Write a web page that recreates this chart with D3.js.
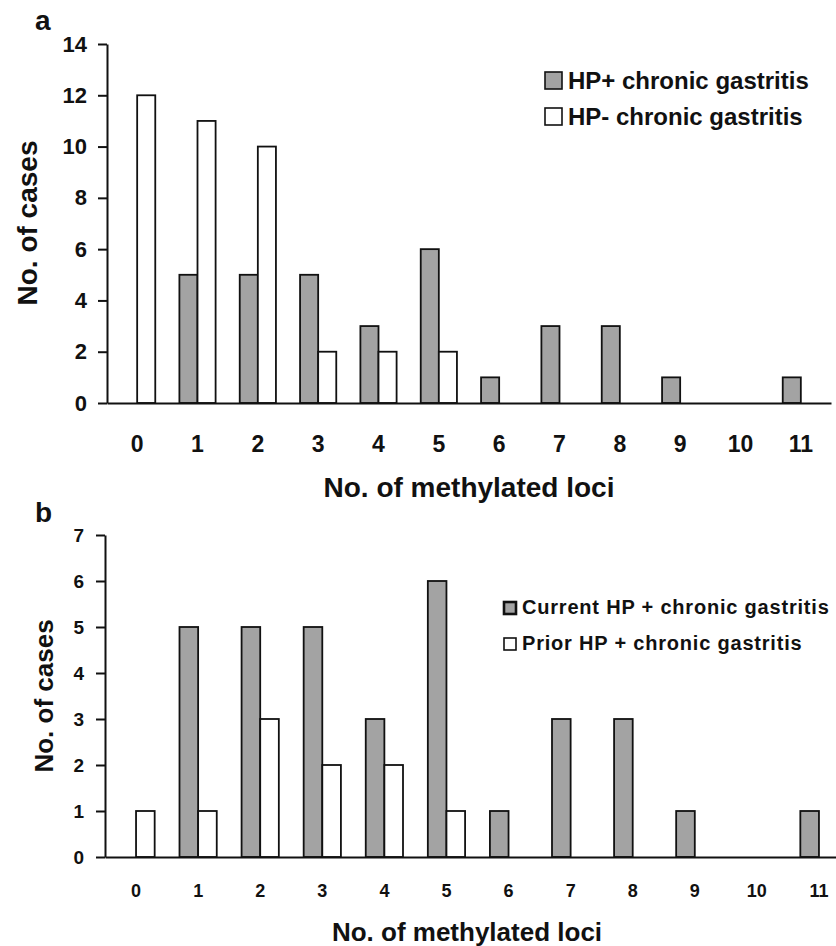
<!DOCTYPE html>
<html>
<head>
<meta charset="utf-8">
<script src="https://cdn.jsdelivr.net/npm/d3@7"></script>
<style>
  body { margin: 0; background: #fff; }
  svg text { font-family: "Liberation Sans", Arial, sans-serif; font-weight: bold; fill: #111; }
</style>
</head>
<body>
<div id="chart"></div>
<script>
// ---- data ----
const loci = ['0','1','2','3','4','5','6','7','8','9','10','11'];
// panel a
const hpPos = [0, 5, 5, 5, 3, 6, 1, 3, 3, 1, 0, 1];
const hpNeg = [12, 11, 10, 2, 2, 2, 0, 0, 0, 0, 0, 0];
const yTicksA = [0, 2, 4, 6, 8, 10, 12, 14];
// panel b
const currentHp = [0, 5, 5, 5, 3, 6, 1, 3, 3, 1, 0, 1];
const priorHp = [1, 1, 3, 2, 2, 1, 0, 0, 0, 0, 0, 0];
const yTicksB = [0, 1, 2, 3, 4, 5, 6, 7];

const GRAY = '#a3a3a3';
const W = 836, H = 946;

const svg = d3.select('#chart').append('svg')
    .attr('width', W)
    .attr('height', H);

function drawPanel(cfg) {
    const g = svg.append('g');
    const x = d3.scaleBand().domain(loci).range(cfg.xRange).paddingInner(0).paddingOuter(0);
    const y = d3.scaleLinear().domain([0, cfg.yMax]).range([cfg.y0, cfg.yTop]);
    const bw = x.bandwidth() * 0.3;

    // bars: gray left of centre, white right of centre
    const series = [
        { vals: cfg.s1, fill: GRAY, off: -bw },
        { vals: cfg.s2, fill: '#fff', off: 0 }
    ];
    series.forEach(s => {
        g.append('g').selectAll('rect')
            .data(loci.map((c, i) => ({ c, v: s.vals[i] })).filter(d => d.v > 0))
            .enter().append('rect')
            .attr('x', d => x(d.c) + x.bandwidth() / 2 + s.off)
            .attr('y', d => y(d.v))
            .attr('width', bw)
            .attr('height', d => y(0) - y(d.v))
            .attr('fill', s.fill)
            .attr('stroke', '#111')
            .attr('stroke-width', 1.8);
    });

    // y axis
    const ya = g.append('g')
        .attr('transform', `translate(${cfg.xRange[0]},0)`)
        .call(d3.axisLeft(y).tickValues(cfg.yTicks).tickFormat(d3.format('d'))
            .tickSize(9).tickSizeOuter(0).tickPadding(cfg.yPad));
    ya.selectAll('text').style('font-size', cfg.yFont + 'px');
    ya.selectAll('line, path').attr('stroke', '#111').attr('stroke-width', 2);

    // x axis
    const xa = g.append('g')
        .attr('transform', `translate(0,${cfg.y0})`)
        .call(d3.axisBottom(x).tickSize(0).tickSizeOuter(0).tickPadding(cfg.xPad));
    xa.selectAll('text').style('font-size', cfg.xFont + 'px');
    xa.select('.domain').attr('stroke', '#111').attr('stroke-width', 2);

    // titles
    g.append('text')
        .attr('x', cfg.xTitle[0]).attr('y', cfg.xTitle[1])
        .attr('text-anchor', 'middle')
        .style('font-size', cfg.titleFont + 'px')
        .text('No. of methylated loci');
    g.append('text')
        .attr('transform', `translate(${cfg.yTitle[0]},${cfg.yTitle[1]}) rotate(-90)`)
        .attr('text-anchor', 'middle')
        .style('font-size', cfg.titleFont + 'px')
        .text('No. of cases');
    g.append('text')
        .attr('x', cfg.letter[0]).attr('y', cfg.letter[1])
        .style('font-size', '28px')
        .text(cfg.letterText);

    // legend
    const lg = g.append('g');
    cfg.legend.forEach((item, i) => {
        const ly = cfg.legPos[1] + i * 36;
        lg.append('rect')
            .attr('x', cfg.legPos[0]).attr('y', ly - cfg.legBox)
            .attr('width', cfg.legBox).attr('height', cfg.legBox)
            .attr('fill', i === 0 ? GRAY : '#fff')
            .attr('stroke', '#111')
            .attr('stroke-width', i === 0 ? cfg.legStroke : 1.6);
        lg.append('text')
            .attr('x', cfg.legPos[0] + cfg.legBox + 6).attr('y', ly)
            .style('font-size', cfg.legFont + 'px')
            .style('letter-spacing', cfg.legSpacing + 'px')
            .text(item);
    });
}

drawPanel({
    s1: hpPos, s2: hpNeg, yMax: 14, yTicks: yTicksA,
    xRange: [107, 831], y0: 403, yTop: 44,
    yPad: 11, yFont: 22, xPad: 33, xFont: 23,
    titleFont: 28, xTitle: [469, 497], yTitle: [37, 223],
    letter: [35, 30], letterText: 'a',
    legend: ['HP+ chronic gastritis', 'HP- chronic gastritis'],
    legPos: [545, 89], legBox: 17, legFont: 24, legSpacing: 0, legStroke: 1.6
});

drawPanel({
    s1: currentHp, s2: priorHp, yMax: 7, yTicks: yTicksB,
    xRange: [105, 850], y0: 857, yTop: 535,
    yPad: 12, yFont: 19, xPad: 27, xFont: 18,
    titleFont: 26, xTitle: [467, 941], yTitle: [53, 696],
    letter: [35, 522], letterText: 'b',
    legend: ['Current HP + chronic gastritis', 'Prior HP + chronic gastritis'],
    legPos: [504, 614], legBox: 12, legFont: 20, legSpacing: 0.8, legStroke: 2.6
});
</script>
</body>
</html>
